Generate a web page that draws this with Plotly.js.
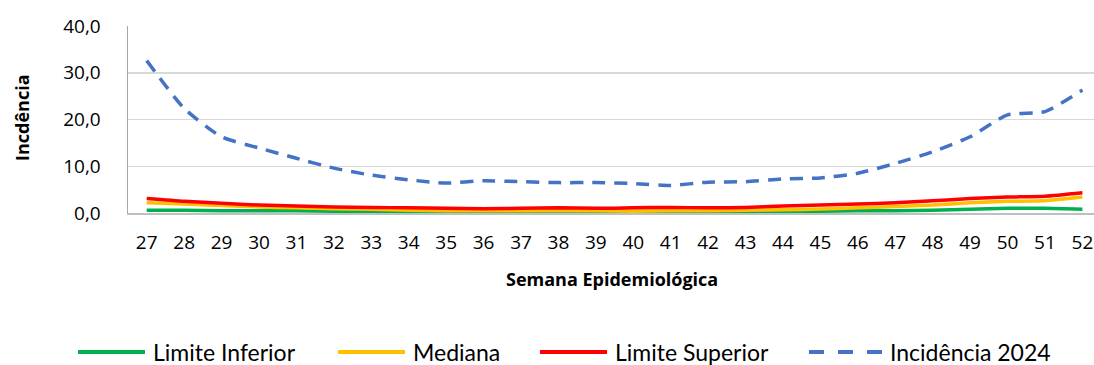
<!DOCTYPE html>
<html><head><meta charset="utf-8">
<script src="https://cdn.plot.ly/plotly-3.0.1.min.js"></script>
<style>html,body{margin:0;padding:0;background:#fff}#chart{width:1094px;height:365px}</style>
</head><body><div id="chart"></div>
<script>
const semanas = ['27','28','29','30','31','32','33','34','35','36','37','38','39','40','41','42','43','44','45','46','47','48','49','50','51','52'];
const limiteInferior = [0.6,0.6,0.5,0.5,0.5,0.4,0.4,0.3,0.3,0.3,0.3,0.3,0.3,0.3,0.3,0.3,0.3,0.4,0.4,0.5,0.5,0.6,0.8,1.0,1.0,0.8];
const mediana = [2.2,1.9,1.6,1.3,1.1,0.9,0.8,0.6,0.5,0.5,0.5,0.5,0.5,0.4,0.5,0.5,0.6,0.7,0.85,1.1,1.4,1.7,2.2,2.5,2.6,3.4];
const limiteSuperior = [3.1,2.5,2.1,1.7,1.5,1.3,1.2,1.1,1.0,0.9,1.0,1.1,1.0,1.1,1.2,1.1,1.2,1.5,1.7,1.9,2.2,2.6,3.1,3.4,3.6,4.35];
const incidencia2024 = [32.6,22.4,16.3,13.9,11.7,9.6,8.1,7.1,6.4,6.9,6.7,6.5,6.5,6.3,5.9,6.6,6.7,7.3,7.5,8.5,10.6,13.1,16.3,21.0,21.7,26.3];
const seriesNames = ['Limite Inferior','Mediana','Limite Superior','Incidência 2024'];
const seriesColors = ['#00b050','#ffc000','#ff0000','#4472c4'];
const seriesDash = ['solid','solid','solid','13px,9px'];
const seriesValues = [limiteInferior, mediana, limiteSuperior, incidencia2024];

const FONT = '"Open Sans", Lato, sans-serif';
const W = 1094, H = 365, M = {l:128, r:0, t:26, b:152};
const pw = W - M.l - M.r, ph = H - M.t - M.b;
const px2x = p => (p - M.l) / pw;
const py2y = p => (H - M.b - p) / ph;

const data = seriesNames.map((n,i) => ({
  type:'scatter', mode:'lines', name:n, x:semanas, y:seriesValues[i],
  line:{color:seriesColors[i], width:3.5, shape:'spline', smoothing:0.6, dash:seriesDash[i]},
  hoverinfo:'skip', showlegend:false
}));

// custom legend (longer line samples like the original)
const legLineStart = [78, 338, 540, 809];
const legLineLen = [67, 67, 67, 73];
const legY = 352;
const shapes = [], annotations = [];
seriesNames.forEach((n,i) => {
  const x0 = legLineStart[i], x1 = x0 + legLineLen[i];
  shapes.push({type:'line', xref:'paper', yref:'paper',
    x0:px2x(x0), x1:px2x(x1), y0:py2y(legY), y1:py2y(legY),
    line:{color:seriesColors[i], width:4, dash: i===3 ? '15px,14px' : 'solid'}});
  annotations.push({xref:'paper', yref:'paper', x:px2x(x1+6), y:py2y(legY),
    xanchor:'left', yanchor:'middle', showarrow:false, text:n,
    font:{family:'Lato, sans-serif', size:23, color:'#000'}});
});
// axis titles
annotations.push({xref:'paper', yref:'paper', x:px2x(612), y:py2y(279), xanchor:'center', yanchor:'middle',
  showarrow:false, text:'<b>Semana Epidemiológica</b>', font:{family:FONT, size:18, color:'#000'}});
annotations.push({xref:'paper', yref:'paper', x:px2x(22), y:py2y(118), xanchor:'center', yanchor:'middle',
  showarrow:false, textangle:-90, text:'<b>Incdência</b>', font:{family:FONT, size:18, color:'#000'}});

const layout = {
  width:W, height:H, margin:M,
  paper_bgcolor:'#fff', plot_bgcolor:'#fff',
  font:{family:FONT, size:19, color:'#000'},
  separators:',.',
  showlegend:false,
  shapes:shapes, annotations:annotations,
  xaxis:{type:'category', range:[-0.5,25.31], showgrid:false, zeroline:false,
    showline:true, linecolor:'#bfbfbf', linewidth:1.5, ticks:'', ticklabelstandoff:12,
    tickfont:{size:19}},
  yaxis:{range:[0,40], dtick:10, tickformat:'.1f', showgrid:true, gridcolor:'#d9d9d9', gridwidth:1.5,
    zeroline:false, showline:true, linecolor:'#a6a6a6', linewidth:1.5, ticks:'', ticklabelstandoff:22,
    tickfont:{size:19}}
};
Plotly.newPlot('chart', data, layout, {displayModeBar:false, staticPlot:true});
</script></body></html>
